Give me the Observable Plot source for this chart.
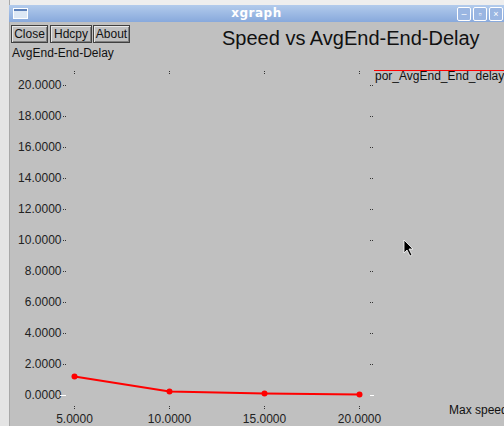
<!DOCTYPE html>
<html><head><meta charset="utf-8">
<script src="https://cdn.jsdelivr.net/npm/d3@7"></script>
<script src="https://cdn.jsdelivr.net/npm/@observablehq/plot@0.6"></script>
<style>
html,body{margin:0;padding:0;background:#c0c0c0;}
#win{position:relative;width:504px;height:426px;overflow:hidden;background:#c0c0c0;font-family:"Liberation Sans",Arial,sans-serif;}
#topstrip{position:absolute;left:0;top:0;width:504px;height:5px;background:#eeeeee;}
#leftstrip{position:absolute;left:0;top:0;width:9px;height:426px;background:#e4e4e4;border-right:1px solid #a8a8a8;}
#tbar{position:absolute;left:9px;top:5px;width:495px;height:17px;background:linear-gradient(#b2cbec,#88a9dc);}
#tbar .t{position:absolute;left:0;width:100%;top:1px;text-align:center;color:#fff;font-weight:bold;font-size:12px;font-family:"DejaVu Sans",sans-serif;letter-spacing:0.5px;}
#tbar .ico{position:absolute;left:4px;top:3px;width:13px;height:9px;border:1px solid #fff;background:#dde8f5;box-shadow:inset 0 2px 0 #5b7fb8;}
.wb{position:absolute;top:2px;width:12px;height:12px;border:1px solid #fff;border-radius:2px;background:#9ab6e2;color:#fff;font-size:9px;line-height:12px;text-align:center;}
.btn{position:absolute;top:25px;height:16px;border:1px solid #404040;box-shadow:inset 1px 1px 0 #e8e8e8, inset -1px -1px 0 #808080;font-size:12px;line-height:16px;color:#111;text-align:center;}
.lbl{position:absolute;color:#111;white-space:nowrap;}
svg{position:absolute;left:0;top:0;}
</style></head>
<body><div id="win">
<div id="topstrip"></div><div id="leftstrip"></div>
<div id="tbar"><div class="ico"></div><div class="t">xgraph</div>
<div class="wb" style="left:448px">–</div><div class="wb" style="left:464px">▫</div><div class="wb" style="left:480px">×</div></div>
<div class="btn" style="left:11px;width:35px">Close</div>
<div class="btn" style="left:50px;width:40px">Hdcpy</div>
<div class="btn" style="left:93px;width:35px">About</div>
<div class="lbl" id="title" style="left:222px;top:27px;font-size:20px;"></div>
<div class="lbl" id="ylab" style="left:12px;top:46px;font-size:12px;"></div>
<div class="lbl" id="xlab" style="left:449px;top:403px;font-size:12px;"></div>
<div class="lbl" id="leg" style="left:375px;top:69px;font-size:12px;"></div>
<div style="position:absolute;left:374px;top:70px;width:130px;height:1px;background:#ff0000;"></div>
<div id="chart"></div>
<svg width="14" height="20" style="left:403px;top:239px;"><path d="M1,1 L1,14 L4,11 L7,17 L9,16 L6,10 L10,10 Z" fill="#000" stroke="#fff" stroke-width="0.8"/></svg>
</div>
<script>
const titleText = "Speed vs AvgEnd-End-Delay";
const yLabel = "AvgEnd-End-Delay";
const xLabel = "Max speed";
const seriesName = "por_AvgEnd_End_delay";
const speeds = [5, 10, 15, 20];
const delays = [1.23, 0.26, 0.13, 0.07];
const xTicks = [5, 10, 15, 20];
const yTicks = [0, 2, 4, 6, 8, 10, 12, 14, 16, 18, 20];

document.getElementById("title").textContent = titleText;
document.getElementById("ylab").textContent = yLabel;
document.getElementById("xlab").textContent = xLabel;
document.getElementById("leg").textContent = seriesName;

const data = speeds.map((s, i) => ({speed: s, delay: delays[i]}));
const fmt = d3.format(".4f");
const tickCol = "#333";

const chart = Plot.plot({
  width: 504, height: 426,
  marginLeft: 74, marginRight: 145, marginTop: 85, marginBottom: 31,
  x: {domain: [5, 20], axis: null},
  y: {domain: [0, 20], axis: null},
  style: {background: "transparent", fontFamily: "'Liberation Sans', Arial, sans-serif", fontSize: "12px", color: "#222"},
  marks: [
    Plot.axisY(yTicks, {anchor: "left", tickSize: 3, tickPadding: 2, dx: -8, tickFormat: fmt, stroke: tickCol, strokeDasharray: "1,1", fill: "#222", fontSize: 12, label: null}),
    Plot.axisY([0], {anchor: "left", tickSize: 6, dx: -8, text: null, stroke: "#fff", label: null}),
    Plot.axisY(yTicks, {anchor: "right", tickSize: 4, dx: 10, text: null, stroke: tickCol, strokeDasharray: "1,1", label: null}),
    Plot.axisY([0], {anchor: "right", tickSize: 4, dx: 10, text: null, stroke: "#fff", label: null}),
    Plot.axisX(xTicks, {anchor: "top", tickSize: 3, dy: -12, text: null, stroke: tickCol, strokeDasharray: "1,1", label: null}),
    Plot.axisX(xTicks, {anchor: "bottom", tickSize: 3, tickPadding: 5, dy: 11, tickFormat: fmt, stroke: tickCol, strokeDasharray: "1,1", fill: "#222", fontSize: 12, label: null}),
    Plot.line(data, {x: "speed", y: "delay", stroke: "#ff0000", strokeWidth: 2}),
    Plot.dot(data, {x: "speed", y: "delay", r: 3, fill: "#ff0000", stroke: "none"})
  ]
});
document.getElementById("chart").appendChild(chart);
</script>
</body></html>
